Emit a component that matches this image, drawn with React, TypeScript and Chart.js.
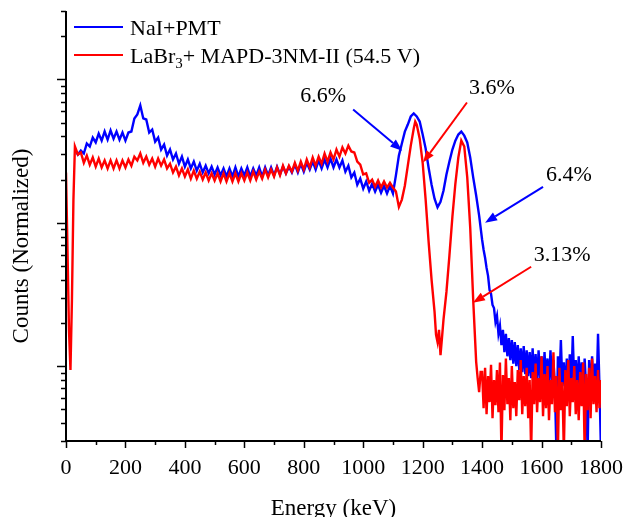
import React, { useEffect, useRef } from "react";
import { Chart, registerables } from "chart.js";

Chart.register(...registerables);

const FONT = '"Liberation Serif", "Times New Roman", serif';
const BLUE = "#0000ff";
const RED = "#ff0000";

// ---- NaI+PMT spectrum (energy keV, normalized counts) ----
const naiEnergy = [
  30, 40, 50, 60, 70, 80, 90, 100, 110, 120,
  130, 140, 150, 160, 170, 180, 190, 200, 210, 220,
  230, 240, 250, 260, 270, 280, 290, 300, 310, 320,
  330, 340, 350, 360, 370, 380, 390, 400, 410, 420,
  430, 440, 450, 460, 470, 480, 490, 500, 510, 520,
  530, 540, 550, 560, 570, 580, 590, 600, 610, 620,
  630, 640, 650, 660, 670, 680, 690, 700, 710, 720,
  730, 740, 750, 760, 770, 780, 790, 800, 810, 820,
  830, 840, 850, 860, 870, 880, 890, 900, 910, 920,
  930, 940, 950, 960, 970, 980, 990, 1000, 1010, 1020,
  1030, 1040, 1050, 1060, 1070, 1080, 1090, 1100, 1110, 1120,
  1130, 1140, 1150, 1160, 1170, 1180, 1190, 1200, 1210, 1220,
  1230, 1240, 1250, 1260, 1270, 1280, 1290, 1300, 1310, 1320,
  1330, 1340, 1350, 1360, 1370, 1380, 1390, 1400,
  1405, 1410, 1415, 1420, 1425, 1430, 1435, 1440, 1445, 1450,
  1455, 1460, 1465, 1470, 1475, 1480, 1485, 1490, 1495, 1500,
  1505, 1510, 1515, 1520, 1525, 1530, 1535, 1540, 1545, 1550,
  1555, 1560, 1565, 1570, 1575, 1580, 1585, 1590, 1595, 1600,
  1605, 1610, 1615, 1620, 1625, 1630, 1635, 1640, 1645, 1650,
  1655, 1660, 1665, 1670, 1675, 1680, 1685, 1690, 1695, 1700,
  1705, 1710, 1715, 1720, 1725, 1730, 1735, 1740, 1745, 1750,
  1755, 1760, 1765, 1770, 1775, 1780, 1785, 1790, 1795, 1800,
];
const naiCounts = [
  0.324, 0.299, 0.319, 0.304, 0.357, 0.340, 0.393, 0.363, 0.419, 0.374,
  0.433, 0.380, 0.440, 0.386, 0.433, 0.380, 0.426, 0.374, 0.426, 0.433,
  0.534, 0.569, 0.658, 0.534, 0.525, 0.426, 0.447, 0.368, 0.393, 0.324,
  0.351, 0.294, 0.324, 0.276, 0.304, 0.258, 0.289, 0.246, 0.276, 0.239,
  0.267, 0.231, 0.258, 0.224, 0.250, 0.221, 0.246, 0.217, 0.243, 0.214,
  0.239, 0.210, 0.239, 0.210, 0.243, 0.210, 0.239, 0.214, 0.243, 0.210,
  0.239, 0.214, 0.243, 0.210, 0.243, 0.214, 0.243, 0.214, 0.246, 0.217,
  0.246, 0.221, 0.246, 0.224, 0.254, 0.224, 0.258, 0.227, 0.262, 0.235,
  0.267, 0.235, 0.272, 0.239, 0.276, 0.243, 0.280, 0.243, 0.276, 0.243,
  0.272, 0.227, 0.250, 0.207, 0.224, 0.184, 0.203, 0.173, 0.194, 0.167,
  0.187, 0.165, 0.184, 0.162, 0.181, 0.160, 0.181, 0.160, 0.214, 0.294,
  0.357, 0.432, 0.484, 0.551, 0.578, 0.551, 0.508, 0.412, 0.329, 0.242,
  0.184, 0.147, 0.128, 0.140, 0.167, 0.217, 0.267, 0.324, 0.374, 0.412,
  0.432, 0.405, 0.363, 0.285, 0.207, 0.155, 0.112, 0.0761,
  0.0648, 0.0570, 0.0484, 0.0426, 0.0340, 0.0319, 0.0267, 0.0254, 0.0203, 0.0224,
  0.0168, 0.0191, 0.0140, 0.0179, 0.0125, 0.0168, 0.0117, 0.0157, 0.0110, 0.0152,
  0.0104, 0.0147, 0.0100, 0.0140, 0.00938, 0.0133, 0.00908, 0.0138, 0.00879, 0.0129,
  0.00851, 0.0125, 0.00824, 0.0133, 0.00798, 0.0121, 0.00772, 0.0129, 0.00824, 0.0117,
  0.00748, 0.0125, 0.00772, 0.0113, 0.00724, 0.0129, 0.00798, 0.0110, 0.00701, 0.0025,
  0.0117, 0.00748, 0.0152, 0.00724, 0.0106, 0.00679, 0.0113, 0.00724, 0.0121, 0.00701,
  0.0162, 0.00748, 0.0110, 0.00679, 0.0117, 0.00724, 0.0106, 0.00657, 0.0113, 0.00701,
  0.0025, 0.0110, 0.00679, 0.0117, 0.00724, 0.0104, 0.00657, 0.0168, 0.00701, 0.0025,
];

// ---- LaBr3 + MAPD spectrum ----
const labrEnergy = [
  0, 5, 10, 15, 20, 25,
  30, 40, 50, 60, 70, 80, 90, 100, 110, 120,
  130, 140, 150, 160, 170, 180, 190, 200, 210, 220,
  230, 240, 250, 260, 270, 280, 290, 300, 310, 320,
  330, 340, 350, 360, 370, 380, 390, 400, 410, 420,
  430, 440, 450, 460, 470, 480, 490, 500, 510, 520,
  530, 540, 550, 560, 570, 580, 590, 600, 610, 620,
  630, 640, 650, 660, 670, 680, 690, 700, 710, 720,
  730, 740, 750, 760, 770, 780, 790, 800, 810, 820,
  830, 840, 850, 860, 870, 880, 890, 900, 910, 920,
  930, 940, 950, 960, 970, 980, 990, 1000, 1010, 1020,
  1030, 1040, 1050, 1060, 1070, 1080, 1090, 1100, 1110, 1120,
  1130, 1140, 1150, 1160, 1170,
  1175,
  1180, 1190, 1200, 1210, 1220, 1230, 1240,
  1245, 1250, 1255, 1260, 1265,
  1270, 1280, 1290, 1300, 1310, 1320, 1330, 1340, 1350, 1360, 1370, 1380,
  1385, 1390, 1395,
  1400, 1405, 1410, 1415, 1420, 1425, 1430, 1435, 1440, 1445,
  1450, 1455, 1460, 1465, 1470, 1475, 1480, 1485, 1490, 1495,
  1500, 1505, 1510, 1515, 1520, 1525, 1530, 1535, 1540, 1545,
  1550, 1555, 1560, 1565, 1570, 1575, 1580, 1585, 1590, 1595,
  1600, 1605, 1610, 1615, 1620, 1625, 1630, 1635, 1640, 1645,
  1650, 1655, 1660, 1665, 1670, 1675, 1680, 1685, 1690, 1695,
  1700, 1705, 1710, 1715, 1720, 1725, 1730, 1735, 1740, 1745,
  1750, 1755, 1760, 1765, 1770, 1775, 1780, 1785, 1790, 1795,
  1800,
];
const labrCounts = [
  0.224, 0.0648, 0.0179, 0.00938, 0.0290, 0.145,
  0.340, 0.299, 0.309, 0.262, 0.294, 0.254, 0.285, 0.246, 0.280, 0.243,
  0.272, 0.239, 0.272, 0.239, 0.272, 0.239, 0.272, 0.243, 0.276, 0.250,
  0.289, 0.272, 0.304, 0.262, 0.289, 0.254, 0.280, 0.246, 0.280, 0.250,
  0.276, 0.239, 0.258, 0.224, 0.246, 0.214, 0.239, 0.210, 0.235, 0.203,
  0.231, 0.203, 0.227, 0.200, 0.224, 0.197, 0.221, 0.197, 0.221, 0.194,
  0.221, 0.194, 0.221, 0.194, 0.221, 0.194, 0.221, 0.197, 0.224, 0.197,
  0.227, 0.200, 0.227, 0.203, 0.235, 0.207, 0.235, 0.210, 0.243, 0.214,
  0.250, 0.221, 0.250, 0.227, 0.262, 0.231, 0.267, 0.235, 0.276, 0.243,
  0.285, 0.250, 0.289, 0.258, 0.304, 0.267, 0.309, 0.276, 0.324, 0.289,
  0.335, 0.304, 0.345, 0.314, 0.309, 0.267, 0.254, 0.217, 0.221, 0.190,
  0.200, 0.178, 0.197, 0.176, 0.194, 0.176, 0.190, 0.176, 0.165, 0.129,
  0.145, 0.181, 0.250, 0.345, 0.454,
  0.508,
  0.484, 0.386, 0.262, 0.145, 0.0737, 0.0399, 0.0239,
  0.0165, 0.0147, 0.0179, 0.0119, 0.0157,
  0.0210, 0.0329, 0.0589, 0.110, 0.187, 0.285, 0.374, 0.340, 0.207, 0.0924, 0.0290, 0.0107,
  0.00824, 0.00657, 0.00908,
  0.00908, 0.00508, 0.00972, 0.00461, 0.00851, 0.00560, 0.0102, 0.00433, 0.00798, 0.00533,
  0.00938, 0.00476, 0.0106, 0.0025, 0.00865, 0.00492, 0.0113, 0.00542, 0.00824, 0.00419,
  0.0100, 0.00508, 0.00772, 0.00447, 0.00938, 0.00578, 0.0110, 0.00461, 0.00851, 0.00524,
  0.00972, 0.00433, 0.00798, 0.0025, 0.00908, 0.00542, 0.0104, 0.00476, 0.00824, 0.00560,
  0.0117, 0.00447, 0.00879, 0.00508, 0.0100, 0.00419, 0.00798, 0.00542, 0.0125, 0.00476,
  0.00851, 0.0025, 0.00972, 0.00492, 0.00772, 0.0025, 0.00938, 0.00524, 0.0110, 0.00447,
  0.00824, 0.00560, 0.0100, 0.00461, 0.00798, 0.00419, 0.00908, 0.00524, 0.0106, 0.0025,
  0.00879, 0.00492, 0.00972, 0.00433, 0.0113, 0.00542, 0.00851, 0.00476, 0.00938, 0.00508,
  0.00798,
];

// axis settings
const xMin = 0;
const xMax = 1800;
const xMajorStep = 200;
const xMinorStep = 100;
const yMin = 0.003;
const yMax = 3;

const xTitle = "Energy (keV)";
const yTitle = "Counts (Normalized)";

// resolution annotations (text position and arrow in data coordinates)
const annotationLabels = ["6.6%", "3.6%", "6.4%", "3.13%"];
const annotationColors = [BLUE, RED, BLUE, RED];
const annotationText = [[865, 0.761], [1433, 0.865], [1692, 0.216], [1669, 0.0597]];
const annotationFrom = [[966, 0.617], [1349, 0.69], [1605, 0.178], [1565, 0.0493]];
const annotationTo = [[1131, 0.318], [1201, 0.263], [1410, 0.1], [1369, 0.0276]];

function drawArrow(ctx: CanvasRenderingContext2D, x1: number, y1: number, x2: number, y2: number, color: string) {
  const ang = Math.atan2(y2 - y1, x2 - x1);
  const headLen = 12;
  const headHalf = 4.5;
  const bx = x2 - headLen * Math.cos(ang);
  const by = y2 - headLen * Math.sin(ang);
  ctx.strokeStyle = color;
  ctx.fillStyle = color;
  ctx.lineWidth = 2;
  ctx.beginPath();
  ctx.moveTo(x1, y1);
  ctx.lineTo(bx, by);
  ctx.stroke();
  ctx.beginPath();
  ctx.moveTo(x2, y2);
  ctx.lineTo(bx + headHalf * Math.sin(ang), by - headHalf * Math.cos(ang));
  ctx.lineTo(bx - headHalf * Math.sin(ang), by + headHalf * Math.cos(ang));
  ctx.closePath();
  ctx.fill();
}

const decorPlugin = {
  id: "decor",
  afterDraw(chart: any) {
    const { ctx, chartArea: a } = chart;
    const xs = chart.scales.x;
    const ys = chart.scales.y;
    ctx.save();

    // axis lines
    ctx.strokeStyle = "#000";
    ctx.lineWidth = 2;
    ctx.beginPath();
    ctx.moveTo(a.left, a.top);
    ctx.lineTo(a.left, a.bottom);
    ctx.lineTo(a.right, a.bottom);
    ctx.stroke();

    // y ticks (log, major at decades)
    ctx.lineWidth = 1.5;
    for (let e = -3; e <= 0; e++) {
      for (let m = 1; m <= 9; m++) {
        const v = m * Math.pow(10, e);
        if (v < yMin * 0.999 || v > yMax * 1.001) continue;
        const py = Math.round(ys.getPixelForValue(v)) + 0.5;
        const len = m === 1 ? 9 : 5;
        ctx.beginPath();
        ctx.moveTo(a.left - len, py);
        ctx.lineTo(a.left, py);
        ctx.stroke();
      }
    }
    // x ticks
    for (let v = xMin; v <= xMax; v += xMinorStep) {
      const px = Math.round(xs.getPixelForValue(v)) + 0.5;
      const len = v % xMajorStep === 0 ? 7 : 4;
      ctx.beginPath();
      ctx.moveTo(px, a.bottom);
      ctx.lineTo(px, a.bottom + len);
      ctx.stroke();
    }

    // axis titles
    ctx.fillStyle = "#000";
    ctx.font = `23px ${FONT}`;
    ctx.textAlign = "center";
    ctx.textBaseline = "alphabetic";
    ctx.fillText(xTitle, (a.left + a.right) / 2, 515);
    ctx.save();
    ctx.translate(28, 246);
    ctx.rotate(-Math.PI / 2);
    ctx.fillText(yTitle, 0, 0);
    ctx.restore();

    // legend
    const lx = a.left + 8;
    const rows = [a.top + 16, a.top + 44];
    const cols = [BLUE, RED];
    ctx.lineWidth = 2;
    rows.forEach((ry, i) => {
      ctx.strokeStyle = cols[i];
      ctx.beginPath();
      ctx.moveTo(lx, ry);
      ctx.lineTo(lx + 49, ry);
      ctx.stroke();
    });
    ctx.textAlign = "left";
    ctx.textBaseline = "alphabetic";
    ctx.fillStyle = "#000";
    ctx.font = `22px ${FONT}`;
    const tx = lx + 56;
    ctx.fillText("NaI+PMT", tx, rows[0] + 8);
    let cx = tx;
    ctx.fillText("LaBr", cx, rows[1] + 8);
    cx += ctx.measureText("LaBr").width;
    ctx.font = `15px ${FONT}`;
    ctx.fillText("3", cx, rows[1] + 13);
    cx += ctx.measureText("3").width;
    ctx.font = `22px ${FONT}`;
    ctx.fillText("+ MAPD-3NM-II (54.5 V)", cx, rows[1] + 8);

    // annotations
    ctx.textAlign = "center";
    ctx.textBaseline = "middle";
    annotationLabels.forEach((label, i) => {
      const col = annotationColors[i];
      const fx = xs.getPixelForValue(annotationFrom[i][0]);
      const fy = ys.getPixelForValue(annotationFrom[i][1]);
      const ex = xs.getPixelForValue(annotationTo[i][0]);
      const ey = ys.getPixelForValue(annotationTo[i][1]);
      drawArrow(ctx, fx, fy, ex, ey, col);
      ctx.fillStyle = "#000";
      ctx.font = `22px ${FONT}`;
      ctx.fillText(label, xs.getPixelForValue(annotationText[i][0]), ys.getPixelForValue(annotationText[i][1]));
    });

    ctx.restore();
  },
};

function toPoints(xs: number[], ys: number[]) {
  return xs.map((x, i) => ({ x, y: ys[i] }));
}

export default function App() {
  const ref = useRef<HTMLCanvasElement | null>(null);
  useEffect(() => {
    if (!ref.current) return;
    const chart = new Chart(ref.current, {
      type: "line",
      data: {
        datasets: [
          {
            label: "NaI+PMT",
            data: toPoints(naiEnergy, naiCounts),
            borderColor: BLUE,
            backgroundColor: BLUE,
            borderWidth: 2.4,
            pointRadius: 0,
            tension: 0,
            order: 2,
          },
          {
            label: "LaBr3+ MAPD-3NM-II (54.5 V)",
            data: toPoints(labrEnergy, labrCounts),
            borderColor: RED,
            backgroundColor: RED,
            borderWidth: 2.4,
            pointRadius: 0,
            tension: 0,
            order: 1,
          },
        ],
      },
      options: {
        responsive: false,
        animation: false,
        devicePixelRatio: 1,
        layout: { padding: { top: 11, right: 24, left: 0, bottom: 0 } },
        plugins: { legend: { display: false }, tooltip: { enabled: false } },
        scales: {
          x: {
            type: "linear",
            min: xMin,
            max: xMax,
            grid: { display: false, drawTicks: false },
            border: { display: false },
            ticks: {
              stepSize: xMajorStep,
              maxRotation: 0,
              autoSkip: false,
              padding: 14,
              color: "#000",
              font: { family: FONT, size: 22 },
              callback: (v: any) => String(v),
            },
            afterFit: (s: any) => {
              s.height = 76;
              s.paddingLeft = 0;
              s.paddingRight = 24;
            },
          },
          y: {
            type: "logarithmic",
            min: yMin,
            max: yMax,
            grid: { display: false, drawTicks: false },
            border: { display: false },
            ticks: { display: false },
            afterFit: (s: any) => {
              s.width = 66;
            },
          },
        },
      },
      plugins: [decorPlugin],
    });
    return () => chart.destroy();
  }, []);
  return (
    <div style={{ position: "absolute", left: 0, top: 0, width: 625, height: 517, background: "#fff" }}>
      <canvas ref={ref} width={625} height={517} style={{ display: "block" }} />
    </div>
  );
}
